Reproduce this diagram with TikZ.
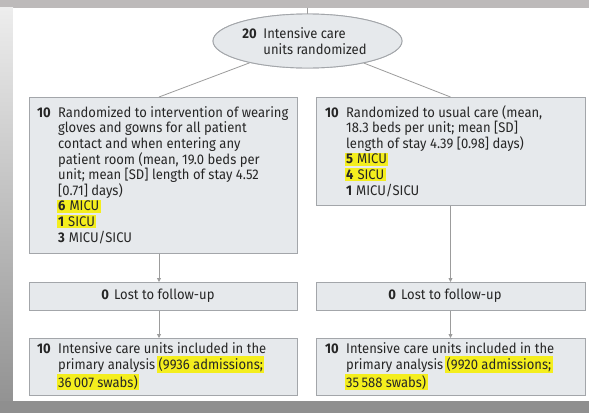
\documentclass[tikz,border=0pt]{standalone}
\usepackage{fontspec}
\setmainfont{Fira Sans}[FakeStretch=0.93]
\usetikzlibrary{shapes.geometric,arrows.meta,calc}
\definecolor{boxfill}{HTML}{E6E9EC}
\definecolor{boxline}{HTML}{A3A6AA}
\definecolor{conn}{HTML}{9C9C9C}
\definecolor{txt}{HTML}{262626}
\definecolor{hlyellow}{HTML}{F4EE1E}
\definecolor{topband}{HTML}{BDBABA}
\definecolor{botband}{HTML}{8F8F8F}
\newcommand{\nbx}[1]{\makebox[21pt][l]{\bfseries #1}}
\newcommand{\ind}{\hspace*{21pt}}
\newcommand{\hlt}[1]{{\setlength{\fboxsep}{1.4pt}\kern-1.4pt\colorbox{hlyellow}{#1}\kern-1.4pt}}
\begin{document}
\begin{tikzpicture}[x=1pt,y=-1pt,
  panel/.style={draw=boxline,fill=boxfill,line width=0.9pt,inner sep=0pt},
  txtnode/.style={inner sep=0pt,align=left,text=txt,font=\fontsize{14}{15.6}\selectfont},
  conline/.style={draw=conn,line width=0.8pt},
  arr/.style={conline,-{Triangle[width=4pt,length=4pt]}}]
\useasboundingbox (0,0) rectangle (589,413);
% background frame
\fill[topband] (0,0) rectangle (589,7.5);
\shade[top color=gray!14,bottom color=gray!85!white] (0,7.5) rectangle (13,401);
\fill[white] (13,7.5) rectangle (589,401);
\fill[botband] (0,401) rectangle (589,413);
% ellipse
\coordinate (topin) at (307.5,7.5);
\coordinate (lcol) at (159,0);
\coordinate (rcol) at (450.5,0);
\node[ellipse,draw=boxline,fill=boxfill,line width=0.9pt,minimum width=189pt,minimum height=54pt,inner sep=0pt] (ell) at (307.5,41) {};
% boxes
\node[panel,anchor=north west,minimum width=268pt,minimum height=156pt] (lbox) at (29,97) {};
\node[panel,anchor=north west,minimum width=269pt,minimum height=108pt] (rbox) at (316,97) {};
\node[panel,anchor=north west,minimum width=268pt,minimum height=28pt] (llost) at (29,282) {};
\node[panel,anchor=north west,minimum width=269pt,minimum height=28pt] (rlost) at (316,282) {};
\node[panel,anchor=north west,minimum width=268pt,minimum height=57pt] (lbot) at (29,338) {};
\node[panel,anchor=north west,minimum width=269pt,minimum height=57pt] (rbot) at (316,338) {};
% connectors
\draw[conline] (topin) -- (ell.north);
\draw[conline] (ell) -- (lbox.north -| lcol);
\draw[conline] (ell) -- (rbox.north -| rcol);
\draw[arr] (lbox.south -| lcol) -- (llost.north -| lcol);
\draw[arr] (llost.south -| lcol) -- (lbot.north -| lcol);
\draw[arr] (rbox.south -| rcol) -- (rlost.north -| rcol);
\draw[arr] (rlost.south -| rcol) -- (rbot.north -| rcol);
% ellipse again, over the line ends
\node[ellipse,draw=boxline,fill=boxfill,line width=0.9pt,minimum width=189pt,minimum height=54pt,inner sep=0pt] (ellb) at (307.5,41) {};
% texts
\node[txtnode] (ellt) at (304.5,41) {\nbx{20}Intensive care\\\ind units randomized};
\node[txtnode,anchor=west] (lboxt) at (37,175) {\nbx{10}Randomized to intervention of wearing\\
\ind gloves and gowns for all patient\\
\ind contact and when entering any\\
\ind patient room (mean, 19.0 beds per\\
\ind unit; mean [SD] length of stay 4.52\\
\ind [0.71] days)\\
\ind\hlt{\textbf{6}\hspace{4pt}MICU}\\
\ind\hlt{\textbf{1}\hspace{4pt}SICU}\\
\ind\textbf{3}\hspace{4pt}MICU/SICU};
\node[txtnode,anchor=west] (rboxt) at (325,151) {\nbx{10}Randomized to usual care (mean,\\
\ind 18.3 beds per unit; mean [SD]\\
\ind length of stay 4.39 [0.98] days)\\
\ind\hlt{\textbf{5}\hspace{4pt}MICU}\\
\ind\hlt{\textbf{4}\hspace{4pt}SICU}\\
\ind\textbf{1}\hspace{4pt}MICU/SICU};
\node[txtnode] (llostt) at (158,296) {\textbf{0}\hspace{5pt}Lost to follow-up};
\node[txtnode] (rlostt) at (445,296) {\textbf{0}\hspace{5pt}Lost to follow-up};
\node[txtnode,anchor=west] (lbott) at (37,366.5) {\nbx{10}Intensive care units included in the\\
\ind primary analysis \hlt{(9936 admissions;}\\
\ind\hlt{36\,007 swabs)}};
\node[txtnode,anchor=west] (rbott) at (325,366.5) {\nbx{10}Intensive care units included in the\\
\ind primary analysis \hlt{(9920 admissions;}\\
\ind\hlt{35\,588 swabs)}};
\end{tikzpicture}
\end{document}
